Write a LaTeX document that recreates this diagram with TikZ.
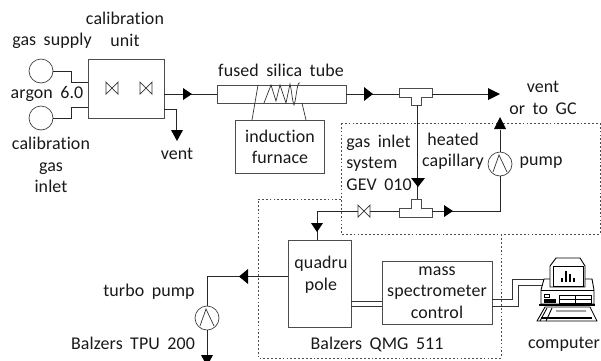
\documentclass[tikz,border=0pt]{standalone}
\usepackage{fontspec}
\setmainfont{Carlito}[LetterSpace=0.6,WordSpace=1.8,Ligatures=NoCommon]
\usetikzlibrary{positioning,arrows.meta,calc}
\begin{document}
\begin{tikzpicture}[x=0.02cm,y=-0.02cm,font=\fontsize{10.2}{12.2}\selectfont,
  line/.style={draw=black!80,line width=0.4pt},
  unitbox/.style={draw=black!70,line width=0.4pt,inner sep=0pt},
  pipe/.style={draw=black!85,line width=0.55pt},
  dots/.style={draw=black!70,line width=0.45pt,dash pattern=on 1pt off 1.2pt},
  lbl/.style={inner sep=0pt,align=center,text=black!90},
  source/.style={circle,draw=black!75,line width=0.4pt,minimum size=0.48cm,inner sep=0pt},
  flow/.style={fill=black,draw=none}]
\useasboundingbox (0,0) rectangle (601,360);

% --- dotted housings ---
\draw[dots] (341,123) rectangle (600,234);
\draw[dots] (341,199) -- (258,199) -- (258,358) -- (501,358) -- (501,234);

% --- boxes ---
\node[unitbox,minimum width=1.52cm,minimum height=1.18cm] (calib) at (126,88.5) {};
\node[unitbox,minimum width=2.58cm,minimum height=0.36cm] (tube) at (281.5,94) {};
\node[unitbox,minimum width=1.78cm,minimum height=1.06cm] (furnace) at (279.5,146.5) {};
\node[unitbox,minimum width=1.26cm,minimum height=1.74cm] (quad) at (319.5,283.5) {};
\node[unitbox,minimum width=2.2cm,minimum height=1.26cm] (mscontrol) at (437,292.5) {};

% --- gas sources and pumps ---
\node[source] (supply) at (41,71) {};
\node[source] (calgas) at (41,118) {};
\node[source] (pumpa) at (500,164) {};
\node[source] (pumpb) at (207,318) {};
\foreach \p in {pumpa,pumpb}{
  \draw[line] ($(\p.center)+(-7,8)$) -- ($(\p.center)+(-1,-9)$) -- ($(\p.center)+(7,8)$);
}

% --- valves ---
\coordinate (va) at (112,88);
\coordinate (vb) at (146,88);
\coordinate (vc) at (364,211);
\foreach \v in {va,vb,vc}{
  \draw[line] ($(\v)+(-6,-6)$) -- ($(\v)+(6,6)$) -- ($(\v)+(6,-6)$) -- ($(\v)+(-6,6)$) -- cycle;
}

% --- tee pieces ---
\draw[unitbox] (399,88) -- (432,88) -- (432,97) -- (421,97) -- (421,105) -- (411,105) -- (411,97) -- (399,97) -- cycle;
\draw[unitbox] (399,208) -- (411,208) -- (411,199) -- (421,199) -- (421,208) -- (432,208) -- (432,217) -- (399,217) -- cycle;
\coordinate (teeaw) at (399,94);
\coordinate (teeae) at (432,94);
\coordinate (teeas) at (417,105);
\coordinate (teebn) at (417,199);
\coordinate (teebw) at (399,211);
\coordinate (teebe) at (432,211);

% --- pipes ---
\draw[pipe] (supply.east) -- (71,71) -- (71,82) -- (calib.west |- 0,82);
\draw[pipe] (calgas.east) -- (71,118) -- (71,107) -- (calib.west |- 0,107);
\draw[pipe] (calib.east |- 0,94) -- (tube.west);
\draw[pipe] (calib.east |- 0,109) -- (176,109) -- (176,131);
\draw[pipe] (tube.east) -- (teeaw);
\coordinate (ventend) at (490,94);
\draw[pipe] (teeae) -- (ventend);
\draw[pipe] (teeas) -- (teebn);
\draw[pipe] (teebe) -- (500,211) -- (pumpa.south);
\coordinate (gcend) at (500,130);
\draw[pipe] (pumpa.north) -- (gcend);
\draw[pipe] (teebw) -- ($(vc)+(6,0)$);
\draw[pipe] ($(vc)+(-6,0)$) -- (317,211) -- (317,240);
\draw[pipe] (quad.west |- 0,276) -- (207,276) -- (pumpb.north);
\coordinate (turboend) at (207,356);
\draw[pipe] (pumpb.south) -- (turboend);

% --- flow arrows ---
\fill[flow] (183,88) -- (192,94) -- (183,100) -- cycle;
\fill[flow] (364,87) -- (373,94) -- (364,101) -- cycle;
\fill[flow] (488,88) -- (500,94) -- (488,100) -- cycle;
\fill[flow] (444,205) -- (453,211) -- (444,217) -- cycle;
\fill[flow] (171,130) -- (183,130) -- (177,141) -- cycle;
\fill[flow] (411,178) -- (425,178) -- (418,187) -- cycle;
\fill[flow] (494,129) -- (506,129) -- (500,117) -- cycle;
\fill[flow] (311,223) -- (323,223) -- (317,232) -- cycle;
\fill[flow] (248,269) -- (248,284) -- (239,276.5) -- cycle;
\fill[flow] (201,355) -- (213,355) -- (207,366) -- cycle;

% --- furnace coil ---
\draw[line] (252,120) -- (258,85);
\draw[line] (306,120) -- (302,103);
\draw[line] (264,103) -- (271,85) -- (276,101) -- (280,85) -- (286,103) -- (290,84) .. controls (292,92) and (292,100) .. (294,105) .. controls (296,100) and (297,84) .. (299,83) -- (300,83);

% --- signal lines ---
\draw[line] (quad.east |- 0,301) -- (mscontrol.west |- 0,301);
\draw[line] (quad.east |- 0,306) -- (mscontrol.west |- 0,306);
\draw[line] (mscontrol.east |- 0,299) -- (512,299) -- (512,279) -- (548,279);
\draw[line] (mscontrol.east |- 0,306) -- (518,306) -- (518,285) -- (543,285);

% --- computer ---
\begin{scope}[line width=0.5pt]
  \draw[fill=white] (537,321) -- (597,321) -- (590,307) -- (545,307) -- cycle;
  \fill (541,317) rectangle (592,319);
  \draw (540,321) -- (547,308) (546,321) -- (552,308) (556,311) -- (586,311);
  \draw[fill=white] (544,279) -- (592,279) -- (594,290) -- (594,304) -- (541,304) -- (541,290) -- cycle;
  \draw[line width=1pt] (539,305) -- (595,305);
  \draw (541,290) -- (594,290);
  \draw[fill=white] (550,266) -- (556,258) -- (580,258) -- (585,266) -- (585,287) -- (550,287) -- cycle;
  \draw (553,266) -- (583,266) -- (583,286) -- (553,286) -- cycle;
  \foreach \x/\h in {561/4,565/11,569/8,573/4}{\fill (\x,282) rectangle ++(2,-\h);}
  \draw (544,294) rectangle (549,297);
  \fill (544,299) rectangle (556,303);
  \draw (559,295) rectangle (591,303);
  \draw (559,299) -- (591,299) (575,295) -- (575,303);
\end{scope}

% --- labels ---
\node[lbl] (lcalib) at (125,29.5) {calibration\\unit};
\node[lbl] (lsupply) at (52,41) {gas supply};
\node[lbl] (largon) at (47,94) {argon 6.0};
\node[lbl] (lcalgas) at (51,165) {calibration\\gas\\inlet};
\node[lbl] (lvent) at (177,154) {vent};
\node[lbl] (ltube) at (281,70) {fused silica tube};
\node[lbl] (lfurnace) at (280,147) {induction\\furnace};
\node[lbl] (lvent2) at (543,98) {vent\\or to GC};
\node[lbl,align=left,anchor=west] (linlet) at (346,162.5) {gas inlet\\system\\GEV 010};
\node[lbl] (lcap) at (453,151) {heated\\capillary};
\node[lbl] (lpump) at (541,163) {pump};
\node[lbl] (lquad) at (321,274.5) {quadru\\pole};
\node[lbl] (lms) at (437,292.5) {mass\\spectrometer\\control};
\node[lbl] (lturbo) at (149,292) {turbo pump};
\node[lbl] (ltpu) at (133,343) {Balzers TPU 200};
\node[lbl] (lqmg) at (377,344) {Balzers QMG 511};
\node[lbl] (lcomputer) at (564,344) {computer};
\end{tikzpicture}
\end{document}
